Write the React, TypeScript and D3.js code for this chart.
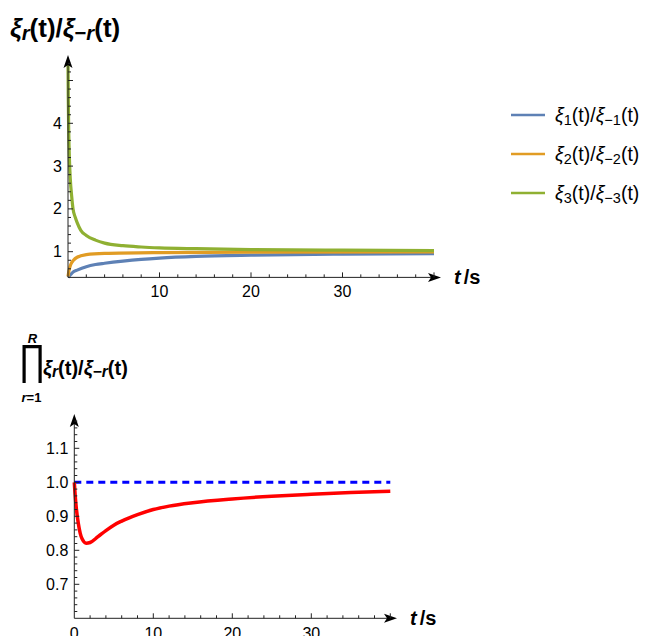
import React from "react";
import * as d3 from "d3";

const blueT = [0, 0.3, 0.6, 1, 2, 3, 4, 6, 8, 10, 14, 20, 30, 40];
const blueV = [0.4, 0.47, 0.53, 0.57, 0.65, 0.7, 0.73, 0.78, 0.82, 0.85, 0.89, 0.92, 0.945, 0.957];
const orangeT = [0, 0.1, 0.3, 0.6, 1, 2, 4, 10, 20, 40];
const orangeV = [0.42, 0.55, 0.7, 0.8, 0.87, 0.93, 0.96, 0.98, 0.99, 0.995];
const greenT = [0, 0.03, 0.08, 0.15, 0.25, 0.4, 0.55, 0.8, 1, 1.4, 2, 3, 4, 6, 8, 10, 14, 20, 30, 40];
const greenV = [5.43, 4.6, 3.8, 3.2, 2.7, 2.3, 2.0, 1.8, 1.68, 1.5, 1.38, 1.27, 1.2, 1.14, 1.11, 1.09, 1.07, 1.05, 1.035, 1.027];
const prodT = [0, 0.1, 0.25, 0.5, 0.75, 1, 1.5, 2, 3, 4, 5, 6, 8, 10, 12, 15, 20, 25, 30, 35, 40];
const prodV = [1.0, 0.965, 0.925, 0.88, 0.85, 0.833, 0.821, 0.823, 0.84, 0.858, 0.874, 0.886, 0.905, 0.92, 0.93, 0.94, 0.951, 0.959, 0.965, 0.97, 0.974];
const refT = [0, 40];
const refV = [1, 1];

const topXTicks = [10, 20, 30];
const topYTicks = [1, 2, 3, 4];
const botXTicks = [0, 10, 20, 30];
const botYTicks = [0.7, 0.8, 0.9, 1.0, 1.1];

const legendLabels = ["1", "2", "3"];
const colors = ["#5E81B5", "#E19C24", "#8FB032"];

const FONT = "'Liberation Sans', Arial, sans-serif";

function zip(t: number[], v: number[]) {
  return t.map((x, i) => [x, v[i]] as [number, number]);
}

function Ratio({ x, y, size }: { x: number; y: number; size: number }) {
  const s = size * 0.78;
  const d = size * 0.1;
  return (
    <text x={x} y={y} fontFamily={FONT} fontWeight="bold" fontSize={size}>
      <tspan fontStyle="italic">ξ</tspan>
      <tspan fontStyle="italic" fontSize={s} dy={d}>r</tspan>
      <tspan dy={-d}>(t)/</tspan>
      <tspan fontStyle="italic">ξ</tspan>
      <tspan fontSize={s} dy={d}>−</tspan>
      <tspan fontStyle="italic" fontSize={s}>r</tspan>
      <tspan dy={-d}>(t)</tspan>
    </text>
  );
}

export default function App() {
  const tx = d3.scaleLinear().domain([0, 40]).range([68, 434]);
  const ty = d3.scaleLinear().domain([1, 2]).range([251.7, 208.9]);
  const tOriginY = ty(0.4);
  const tOriginX = tx(0);
  const bx = d3.scaleLinear().domain([0, 40]).range([74.3, 390.3]);
  const by = d3.scaleLinear().domain([1.0, 1.1]).range([482.3, 448.3]);
  const bOriginY = by(0.6);
  const bOriginX = bx(0);

  const lineTop = d3.line<[number, number]>().x(d => tx(d[0])).y(d => ty(d[1])).curve(d3.curveMonotoneX);
  const lineBot = d3.line<[number, number]>().x(d => bx(d[0])).y(d => by(d[1])).curve(d3.curveMonotoneX);

  const topSeries = [zip(blueT, blueV), zip(orangeT, orangeV), zip(greenT, greenV)];

  const topXMinor = d3.range(2, 41, 2);
  const topYMinor = d3.range(0.6, 5.5, 0.2);
  const botXMinor = d3.range(2, 41, 2);
  const botYMinor = d3.range(0.62, 1.19, 0.02);

  const axisColor = "#222";
  const tickFont = 16;

  return (
    <svg width={655} height={636} style={{ position: "absolute", left: 0, top: 0 }}>
      <rect width={655} height={636} fill="white" />
      <Ratio x={10} y={37} size={26} />

      {topSeries.map((s, i) => (
        <path key={i} d={lineTop(s) || ""} fill="none" stroke={colors[i]} strokeWidth={3.2} />
      ))}

      <line x1={tOriginX} x2={432} y1={tOriginY} y2={tOriginY} stroke={axisColor} strokeWidth={1} />
      <path d={`M${441},${tOriginY} L${428},${tOriginY - 4.5} L${431},${tOriginY} L${428},${tOriginY + 4.5} Z`} fill="black" />
      <line x1={tOriginX} x2={tOriginX} y1={tOriginY} y2={64} stroke={axisColor} strokeWidth={1} />
      <path d={`M${tOriginX},55 L${tOriginX - 4.5},68 L${tOriginX},65 L${tOriginX + 4.5},68 Z`} fill="black" />
      {topXMinor.map(v => (
        <line key={"txm" + v} x1={tx(v)} x2={tx(v)} y1={tOriginY} y2={tOriginY - (v % 10 === 0 ? 5 : 3)} stroke={axisColor} />
      ))}
      {topYMinor.map(v => (
        <line key={"tym" + v} x1={tOriginX} x2={tOriginX + (Math.abs(v - Math.round(v)) < 0.01 ? 5 : 3)} y1={ty(v)} y2={ty(v)} stroke={axisColor} />
      ))}
      {topXTicks.map(v => (
        <text key={"txt" + v} x={tx(v)} y={tOriginY + 20} textAnchor="middle" fontFamily={FONT} fontSize={tickFont}>{v}</text>
      ))}
      {topYTicks.map(v => (
        <text key={"tyt" + v} x={tOriginX - 6} y={ty(v) + 5.5} textAnchor="end" fontFamily={FONT} fontSize={tickFont}>{v}</text>
      ))}
      <text x={454} y={tOriginY + 7} fontFamily={FONT} fontSize={20} fontWeight="bold">
        <tspan fontStyle="italic">t</tspan>
        <tspan dx={3}>/s</tspan>
      </text>

      {legendLabels.map((l, i) => {
        const ly = 115 + i * 39;
        return (
          <g key={"lg" + l}>
            <line x1={511} x2={545} y1={ly} y2={ly} stroke={colors[i]} strokeWidth={2.5} />
            <text x={555} y={ly + 6.5} fontFamily={FONT} fontSize={19.5}>
              <tspan fontStyle="italic">ξ</tspan>
              <tspan fontSize={14.5} dy={3}>{l}</tspan>
              <tspan dy={-3}>(t)/</tspan>
              <tspan fontStyle="italic">ξ</tspan>
              <tspan fontSize={14.5} dy={3}>{"−" + l}</tspan>
              <tspan dy={-3}>(t)</tspan>
            </text>
          </g>
        );
      })}

      <path d="M22.5,345 H41.7 V383 H38.5 V348.2 H25.7 V383 H22.5 Z" fill="black" />
      <text x={32.5} y={343} textAnchor="middle" fontFamily={FONT} fontSize={13} fontWeight="bold" fontStyle="italic">R</text>
      <text x={31.5} y={402} textAnchor="middle" fontFamily={FONT} fontSize={13} fontWeight="bold">
        <tspan fontStyle="italic">r</tspan>=1
      </text>
      <Ratio x={43} y={375} size={20} />

      <path d={lineBot(zip(refT, refV)) || ""} fill="none" stroke="#0000FF" strokeWidth={3} strokeDasharray="7,5" />
      <path d={lineBot(zip(prodT, prodV)) || ""} fill="none" stroke="#FF0000" strokeWidth={3.5} />

      <line x1={bOriginX} x2={389} y1={bOriginY} y2={bOriginY} stroke={axisColor} />
      <path d={`M${397},${bOriginY} L${384},${bOriginY - 4.5} L${387},${bOriginY} L${384},${bOriginY + 4.5} Z`} fill="black" />
      <line x1={bOriginX} x2={bOriginX} y1={bOriginY} y2={422} stroke={axisColor} />
      <path d={`M${bOriginX},414 L${bOriginX - 4.5},427 L${bOriginX},424 L${bOriginX + 4.5},427 Z`} fill="black" />
      {botXMinor.map(v => (
        <line key={"bxm" + v} x1={bx(v)} x2={bx(v)} y1={bOriginY} y2={bOriginY - (v % 10 === 0 ? 5 : 3)} stroke={axisColor} />
      ))}
      {botYMinor.map(v => {
        const major = Math.abs(v * 10 - Math.round(v * 10)) < 0.01;
        return <line key={"bym" + v} x1={bOriginX} x2={bOriginX + (major ? 5 : 3)} y1={by(v)} y2={by(v)} stroke={axisColor} />;
      })}
      {botXTicks.map(v => (
        <text key={"bxt" + v} x={bx(v)} y={bOriginY + 21} textAnchor="middle" fontFamily={FONT} fontSize={tickFont}>{v}</text>
      ))}
      {botYTicks.map(v => (
        <text key={"byt" + v} x={bOriginX - 6} y={by(v) + 5.5} textAnchor="end" fontFamily={FONT} fontSize={tickFont}>{v.toFixed(1)}</text>
      ))}
      <text x={410} y={bOriginY + 7} fontFamily={FONT} fontSize={20} fontWeight="bold">
        <tspan fontStyle="italic">t</tspan>
        <tspan dx={3}>/s</tspan>
      </text>
    </svg>
  );
}
